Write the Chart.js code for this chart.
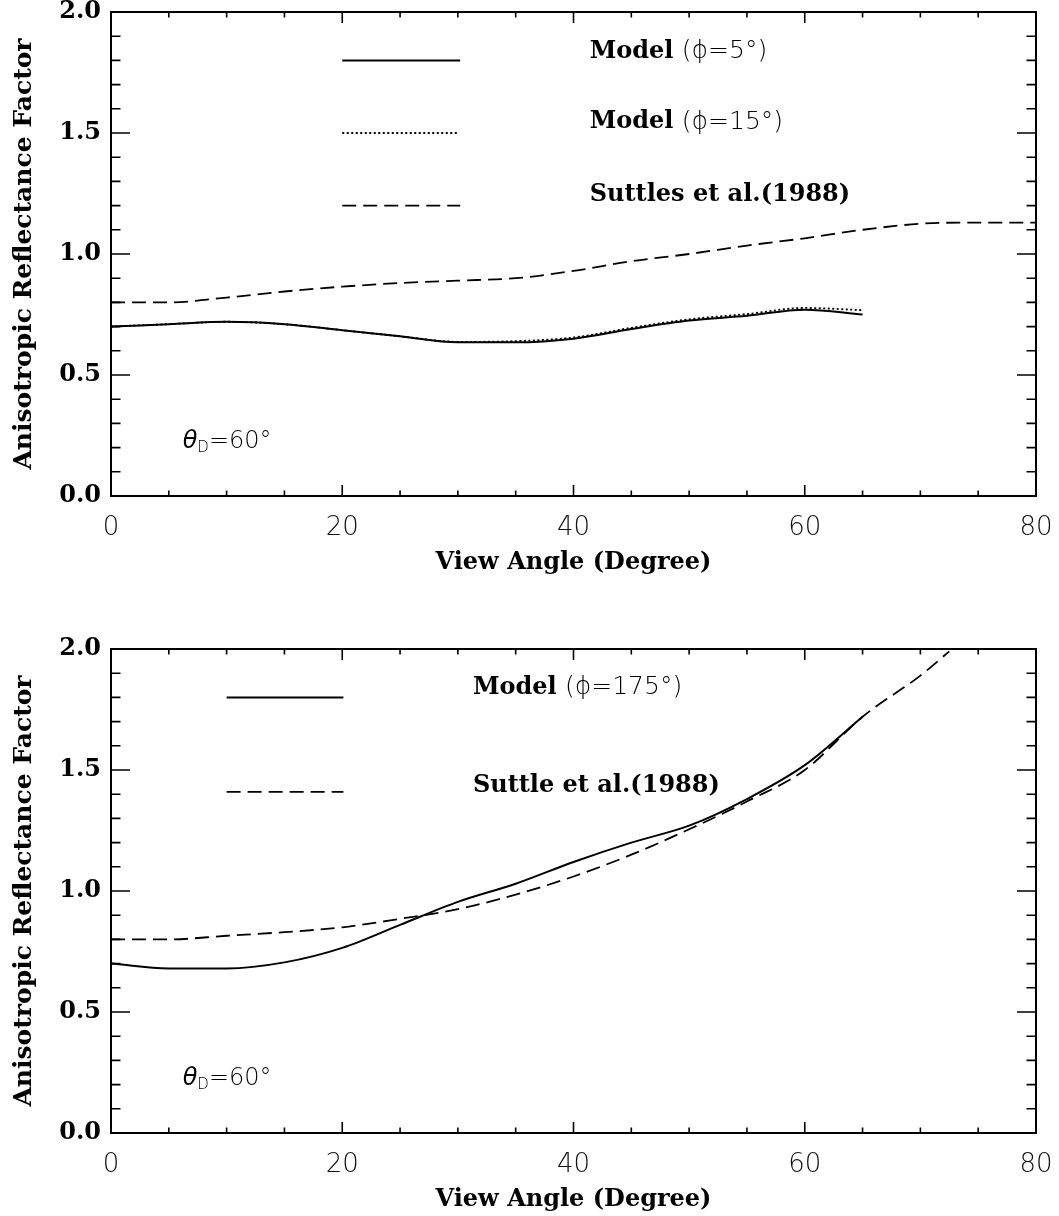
<!DOCTYPE html>
<html>
<head>
<meta charset="utf-8">
<title>Anisotropic Reflectance Factor</title>
<script src="https://cdn.jsdelivr.net/npm/chart.js@4.4.1/dist/chart.umd.min.js"></script>
<style>
	html, body { margin: 0; padding: 0; background: #fff; overflow: hidden; }
	body { width: 1059px; height: 1216px; position: relative; }
	.panel { position: absolute; left: 0; width: 1059px; height: 600px; }
	#panelForward { top: 0; }
	#panelBackward { top: 637px; }
</style>
</head>
<body>
<div class="panel" id="panelForward"><canvas id="forwardChart" width="1059" height="600"></canvas></div>
<div class="panel" id="panelBackward"><canvas id="backwardChart" width="1059" height="600"></canvas></div>
<script>
// view angles (degree) of the model runs
const modelAngles = [0, 5, 10, 15, 20, 25, 30, 35, 40, 45, 50, 55, 60, 65];
const modelPhi5 = [0.70, 0.71, 0.72, 0.71, 0.685, 0.66, 0.635, 0.635, 0.65, 0.69, 0.725, 0.745, 0.77, 0.75];
const modelPhi15 = [0.70, 0.71, 0.72, 0.71, 0.685, 0.66, 0.637, 0.64, 0.655, 0.695, 0.73, 0.752, 0.777, 0.768];
const modelPhi175 = [0.70, 0.68, 0.68, 0.705, 0.765, 0.86, 0.955, 1.03, 1.12, 1.20, 1.27, 1.38, 1.52, 1.72];

// Suttles et al. (1988) ADM values
const suttlesForwardAngles = [0, 5, 10, 15, 20, 25, 30, 35, 40, 45, 50, 55, 60, 65, 70, 75, 80];
const suttlesForward = [0.80, 0.80, 0.82, 0.845, 0.865, 0.88, 0.89, 0.90, 0.93, 0.97, 1.00, 1.035, 1.065, 1.10, 1.125, 1.13, 1.13];
const suttlesBackwardAngles = [0, 5, 10, 15, 20, 25, 30, 35, 40, 45, 50, 55, 60, 65, 70, 72.5];
const suttlesBackward = [0.80, 0.80, 0.815, 0.83, 0.85, 0.885, 0.925, 0.985, 1.06, 1.15, 1.255, 1.37, 1.50, 1.72, 1.89, 1.99];

// axis ticks
const xMajorTicks = [0, 20, 40, 60, 80];
const xMinorTicks = [5, 10, 15, 25, 30, 35, 45, 50, 55, 65, 70, 75];
const yMajorTicks = [0, 0.5, 1.0, 1.5, 2.0];
const yMinorTicks = [0.1, 0.2, 0.3, 0.4, 0.6, 0.7, 0.8, 0.9, 1.1, 1.2, 1.3, 1.4, 1.6, 1.7, 1.8, 1.9];

const serifBold = (size) => `bold ${size}px "DejaVu Serif"`;
const thinSans = (size) => `200 ${size}px "DejaVu Sans"`;
const thinItalic = (size) => `italic 200 ${size}px "DejaVu Sans"`;

const lineStyles = {
	solid: { borderDash: [], borderWidth: 2 },
	dotted: { borderDash: [2, 2.5], borderWidth: 1.8 },
	dashed: { borderDash: [14, 7], borderWidth: 1.8 },
};

const toPoints = (angles, values) => angles.map((angle, index) => ({ x: angle, y: values[index] }));

const buildDataset = (label, angles, values, style) => ({
	label,
	data: toPoints(angles, values),
	borderColor: '#000',
	backgroundColor: '#000',
	pointRadius: 0,
	fill: false,
	cubicInterpolationMode: 'monotone',
	...lineStyles[style],
});

const modelLabel = (angle) => [
	{ text: 'Model ', font: serifBold(24) },
	{ text: `(\u03d5=${angle}\u00b0)`, font: thinSans(25) },
];

const drawParts = (ctx, parts, x, y) => {
	let cursor = x;
	parts.forEach(({ text, font, dy = 0 }) => {
		ctx.font = font;
		ctx.fillText(text, cursor, y + dy);
		cursor += ctx.measureText(text).width;
	});
};

// IDL-like frame: box, inward ticks on all four sides, in-plot legend and note
const idlFrame = {
	id: 'idlFrame',
	afterDraw(chart, args, opts) {
		const { ctx, chartArea: { left, right, top, bottom }, scales: { x, y } } = chart;
		ctx.save();
		ctx.strokeStyle = '#000';
		ctx.fillStyle = '#000';
		ctx.setLineDash([]);

		ctx.lineWidth = 2;
		ctx.strokeRect(left, top, right - left, bottom - top);

		ctx.lineWidth = 1.6;
		ctx.beginPath();
		const xTick = (value, len) => {
			const px = x.getPixelForValue(value);
			ctx.moveTo(px, bottom);
			ctx.lineTo(px, bottom - len);
			ctx.moveTo(px, top);
			ctx.lineTo(px, top + len);
		};
		const yTick = (value, len) => {
			const py = y.getPixelForValue(value);
			ctx.moveTo(left, py);
			ctx.lineTo(left + len, py);
			ctx.moveTo(right, py);
			ctx.lineTo(right - len, py);
		};
		xMajorTicks.forEach((value) => xTick(value, 11));
		xMinorTicks.forEach((value) => xTick(value, 5.5));
		yMajorTicks.forEach((value) => yTick(value, 19));
		yMinorTicks.forEach((value) => yTick(value, 9.5));
		ctx.stroke();

		// legend rows
		ctx.textBaseline = 'middle';
		ctx.textAlign = 'left';
		opts.legend.forEach((item) => {
			const style = lineStyles[item.style];
			ctx.lineWidth = style.borderWidth;
			ctx.setLineDash(style.borderDash);
			ctx.beginPath();
			ctx.moveTo(x.getPixelForValue(item.from), y.getPixelForValue(item.at));
			ctx.lineTo(x.getPixelForValue(item.to), y.getPixelForValue(item.at));
			ctx.stroke();
			drawParts(ctx, item.parts, x.getPixelForValue(item.labelX), y.getPixelForValue(item.labelY));
		});
		ctx.setLineDash([]);

		// solar zenith note
		const noteX = x.getPixelForValue(opts.note.x);
		const noteY = y.getPixelForValue(opts.note.y);
		drawParts(ctx, [
			{ text: '\u03b8', font: thinItalic(24) },
			{ text: 'D', font: thinSans(15), dy: 7 },
			{ text: '=60\u00b0', font: thinSans(24) },
		], noteX, noteY);

		ctx.restore();
	},
};

const buildPanel = (canvasId, datasets, legend) => new Chart(document.getElementById(canvasId), {
	type: 'line',
	data: { datasets },
	plugins: [idlFrame],
	options: {
		responsive: false,
		animation: false,
		layout: { padding: { top: 12, right: 23, left: 0, bottom: 0 } },
		plugins: {
			legend: { display: false },
			tooltip: { enabled: false },
			idlFrame: { legend, note: { x: 6.2, y: 0.225 } },
		},
		scales: {
			x: {
				type: 'linear',
				min: 0,
				max: 80,
				grid: { display: false, drawTicks: false },
				border: { display: false },
				ticks: {
					stepSize: 20,
					padding: 17,
					maxRotation: 0,
					color: '#111',
					font: { family: 'DejaVu Sans', size: 26, weight: '200' },
				},
				title: {
					display: true,
					text: 'View Angle (Degree)',
					color: '#000',
					font: { family: 'DejaVu Serif', size: 24, weight: 'bold' },
					padding: { top: 0, bottom: 23 },
				},
				afterFit: (scale) => {
					scale.height = 104;
					scale.paddingLeft = 0;
					scale.paddingRight = 0;
				},
			},
			y: {
				type: 'linear',
				min: 0,
				max: 2,
				grid: { display: false, drawTicks: false },
				border: { display: false },
				ticks: {
					stepSize: 0.5,
					padding: 10,
					color: '#000',
					callback: (value) => value.toFixed(1),
					font: { family: 'DejaVu Serif', size: 24, weight: 'bold', lineHeight: 1 },
				},
				title: {
					display: true,
					text: 'Anisotropic Reflectance Factor',
					color: '#000',
					font: { family: 'DejaVu Serif', size: 25, weight: 'bold' },
					padding: { top: 9, bottom: 0 },
				},
				afterFit: (scale) => {
					scale.width = 111;
					scale.paddingTop = 0;
					scale.paddingBottom = 0;
				},
			},
		},
	},
});

buildPanel('forwardChart', [
	buildDataset('Model (phi=5)', modelAngles, modelPhi5, 'solid'),
	buildDataset('Model (phi=15)', modelAngles, modelPhi15, 'dotted'),
	buildDataset('Suttles et al.(1988)', suttlesForwardAngles, suttlesForward, 'dashed'),
], [
	{ style: 'solid', from: 20, to: 30.2, at: 1.8, labelX: 41.4, labelY: 1.835, parts: modelLabel(5) },
	{ style: 'dotted', from: 20, to: 30, at: 1.5, labelX: 41.4, labelY: 1.545, parts: modelLabel(15) },
	{ style: 'dashed', from: 20, to: 30.2, at: 1.2, labelX: 41.4, labelY: 1.244,
		parts: [{ text: 'Suttles et al.(1988)', font: serifBold(24) }] },
]);

buildPanel('backwardChart', [
	buildDataset('Model (phi=175)', modelAngles, modelPhi175, 'solid'),
	buildDataset('Suttle et al.(1988)', suttlesBackwardAngles, suttlesBackward, 'dashed'),
], [
	{ style: 'solid', from: 10, to: 20.1, at: 1.8, labelX: 31.3, labelY: 1.84, parts: modelLabel(175) },
	{ style: 'dashed', from: 10, to: 20.1, at: 1.41, labelX: 31.3, labelY: 1.436,
		parts: [{ text: 'Suttle et al.(1988)', font: serifBold(24) }] },
]);
</script>
</body>
</html>
